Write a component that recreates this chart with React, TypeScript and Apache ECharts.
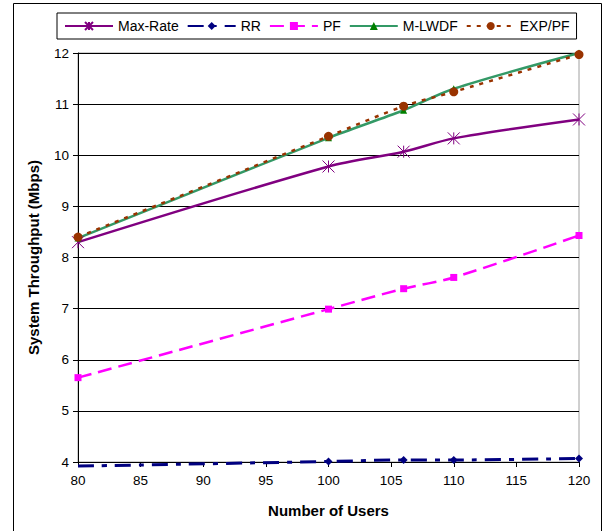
import React, { useEffect, useRef } from "react";
import * as echarts from "echarts";

const users = [80, 100, 106, 110, 120];
const maxRate = [8.3, 9.78, 10.07, 10.33, 10.7];
const rr = [3.92, 4.01, 4.04, 4.04, 4.07];
const pf = [5.65, 6.99, 7.39, 7.61, 8.43];
const mlwdf = [8.38, 10.34, 10.88, 11.3, 12.0];
const expPf = [8.4, 10.37, 10.96, 11.24, 11.97];
const seriesNames = ["Max-Rate", "RR", "PF", "M-LWDF", "EXP/PF"];

const FONT = "'Liberation Sans', Arial, sans-serif";
const STAR = "path://M0,0L10,10M10,0L0,10M5,0L5,10";

function pairs(ys: number[]) {
  return users.map((x, i) => [x, ys[i]]);
}

export default function App() {
  const ref = useRef<HTMLDivElement>(null);
  useEffect(() => {
    document.body.style.margin = "0";
    const chart = echarts.init(ref.current!, null, { renderer: "svg" });
    const rrData: any[] = pairs(rr).map((p, i) =>
      i === 0 ? { value: p, symbol: "none" } : p
    );
    chart.setOption({
      animation: false,
      backgroundColor: "#fff",
      textStyle: { fontFamily: FONT },
      graphic: [
        {
          type: "rect",
          shape: { x: 13.5, y: 3.5, width: 588, height: 540 },
          style: { fill: "none", stroke: "#000", lineWidth: 1 },
          silent: true,
        },
      ],
      legend: {
        left: 57,
        top: 13,
        data: seriesNames,
        itemWidth: 48,
        itemHeight: 10,
        itemGap: 8,
        padding: [6, 7],
        borderColor: "#000",
        borderWidth: 1,
        textStyle: { fontSize: 14, color: "#000", fontFamily: FONT },
      },
      grid: {
        left: 78,
        right: 32,
        top: 53,
        bottom: 69,
        show: true,
        borderColor: "#a0a0a0",
        borderWidth: 1,
      },
      xAxis: {
        type: "value",
        min: 80,
        max: 120,
        interval: 5,
        name: "Number of Users",
        nameLocation: "middle",
        nameGap: 41,
        nameTextStyle: { fontSize: 15, fontWeight: "bold", color: "#000", fontFamily: FONT },
        axisLine: { lineStyle: { color: "#000" } },
        axisTick: { show: true, length: 5, lineStyle: { color: "#000" } },
        axisLabel: { fontSize: 13.5, color: "#000", margin: 11, fontFamily: FONT },
        splitLine: { show: false },
      },
      yAxis: {
        type: "value",
        min: 4,
        max: 12,
        interval: 1,
        name: "System Throughput (Mbps)",
        nameLocation: "middle",
        nameGap: 37,
        nameTextStyle: { fontSize: 15, fontWeight: "bold", color: "#000", fontFamily: FONT },
        axisLine: { show: true, lineStyle: { color: "#000" } },
        axisTick: { show: true, length: 5, lineStyle: { color: "#000" } },
        axisLabel: { fontSize: 13.5, color: "#000", margin: 9, fontFamily: FONT },
        splitLine: { show: true, lineStyle: { color: "#000", width: 1 } },
      },
      series: [
        {
          name: "Max-Rate",
          type: "line",
          data: pairs(maxRate),
          smooth: 0.3,
          clip: false,
          symbol: STAR,
          symbolSize: 12,
          lineStyle: { color: "#800080", width: 2.5 },
          itemStyle: { color: "#800080", borderColor: "#800080", borderWidth: 1 },
        },
        {
          name: "RR",
          type: "line",
          data: rrData,
          smooth: 0.3,
          clip: false,
          symbol: "diamond",
          symbolSize: 8,
          lineStyle: { color: "#000080", width: 3, type: [16, 8, 5, 8] },
          itemStyle: { color: "#000080" },
        },
        {
          name: "PF",
          type: "line",
          data: pairs(pf),
          smooth: 0.3,
          clip: false,
          symbol: "rect",
          symbolSize: 7,
          lineStyle: { color: "#ff00ff", width: 2.5, type: [14, 7] },
          itemStyle: { color: "#ff00ff" },
        },
        {
          name: "M-LWDF",
          type: "line",
          data: pairs(mlwdf),
          smooth: 0.3,
          clip: false,
          symbol: "triangle",
          symbolSize: 7,
          lineStyle: { color: "#339966", width: 2.5 },
          itemStyle: { color: "#008000" },
        },
        {
          name: "EXP/PF",
          type: "line",
          data: pairs(expPf),
          smooth: 0.3,
          clip: false,
          symbol: "circle",
          symbolSize: 9,
          lineStyle: { color: "#993300", width: 2.5, type: [4, 6] },
          itemStyle: { color: "#993300" },
        },
      ],
    });
    return () => chart.dispose();
  }, []);
  return <div ref={ref} style={{ width: 611, height: 531 }} />;
}
